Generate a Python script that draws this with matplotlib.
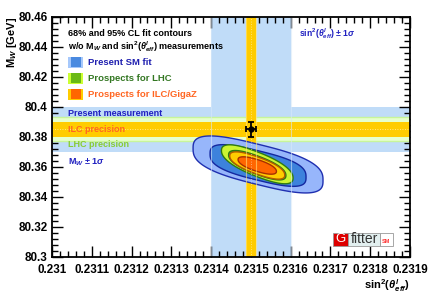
import numpy as np
import matplotlib.pyplot as plt
from matplotlib.patches import Rectangle
from matplotlib.ticker import MultipleLocator, FuncFormatter

plt.rcParams['font.family'] = ['Liberation Sans', 'DejaVu Sans']
plt.rcParams['mathtext.fontset'] = 'custom'
plt.rcParams['mathtext.rm'] = 'Liberation Sans:bold'
plt.rcParams['mathtext.bf'] = 'Liberation Sans:bold'
plt.rcParams['mathtext.it'] = 'Liberation Sans:bold:italic'

# measurement / prospect bands
sin2_center = 0.23150
sin2_err_present = 0.00010
sin2_err_ilc = 0.0000135
mw_center = 80.385
mw_err_present = 0.015
mw_err_lhc = 0.008
mw_err_ilc = 0.005

# fit contours: centre x, centre y, half width x, half width y, correlation, squareness
contour_names = ['SM 95%', 'SM 68%', 'LHC 95%', 'LHC 68%', 'ILC 95%', 'ILC 68%']
contour_cx = [0.231518, 0.231518, 0.231516, 0.231516, 0.231516, 0.231516]
contour_cy = [80.3617, 80.3610, 80.3618, 80.3612, 80.3610, 80.3610]
contour_ax = [0.0001633, 0.0001206, 0.0000900, 0.0000720, 0.0000691, 0.0000482]
contour_ay = [0.0190, 0.0139, 0.0130, 0.0098, 0.0091, 0.0058]
contour_rho = [-0.62, -0.62, -0.74, -0.74, -0.74, -0.70]
contour_sq = [0.7, 0.7, 0.85, 0.85, 0.85, 0.9]
contour_fill = ['#97b6fb', '#3d82dc', '#ccf533', '#4a9e1a', '#ffcc00', '#ff6600']
contour_edge = ['#1f2fb0', '#1428a0', '#2f7a12', '#2f7a12', '#b35a00', '#a83000']

fig = plt.figure(figsize=(4.32, 2.93), dpi=100)
ax = fig.add_axes([52/432, 36/293, 358/432, 240/293])
ax.set_xlim(0.231, 0.2319)
ax.set_ylim(80.3, 80.46)

light_blue = '#c0dcf8'
pale_green = '#e6ffcc'
orange = '#ffcc00'

# present measurement bands
ax.axvspan(sin2_center - sin2_err_present, sin2_center + sin2_err_present,
           color=light_blue, lw=0, zorder=1)
ax.axhspan(mw_center - mw_err_present, mw_center + mw_err_present,
           color=light_blue, lw=0, zorder=1)
# LHC
ax.axhspan(mw_center - mw_err_lhc, mw_center + mw_err_lhc,
           color=pale_green, lw=0, zorder=2)
for s in (-1, 1):
    ax.axhline(mw_center + s*mw_err_lhc, color='#c8f59a', lw=1.0, zorder=2)
# ILC
ax.axhspan(mw_center - mw_err_ilc, mw_center + mw_err_ilc,
           color=orange, lw=0, zorder=3)
ax.axvspan(sin2_center - sin2_err_ilc, sin2_center + sin2_err_ilc,
           color=orange, lw=0, zorder=3)
ax.axhline(mw_center, color='white', lw=0.6, ls=(0, (1, 2)), alpha=0.7, zorder=3)

# contours (rounded, sheared boxes)
t = np.linspace(0, 2*np.pi, 400)
for i in range(len(contour_names)):
    p = contour_sq[i]
    u = np.sign(np.cos(t))*np.abs(np.cos(t))**p
    v = np.sign(np.sin(t))*np.abs(np.sin(t))**p
    r = contour_rho[i]
    w = r*u + np.sqrt(1 - r*r)*v
    w = w/np.abs(w).max()
    x = contour_cx[i] + contour_ax[i]*u
    y = contour_cy[i] + contour_ay[i]*w
    ax.fill(x, y, facecolor=contour_fill[i], edgecolor=contour_edge[i], lw=1.0,
            zorder=4 + i*0.1)

# faint band edges over contours
for xv in (sin2_center - sin2_err_present, sin2_center + sin2_err_present):
    ax.axvline(xv, color='#d8e8f8', lw=0.8, alpha=0.6, zorder=5)
for xv in (sin2_center - sin2_err_ilc, sin2_center + sin2_err_ilc):
    ax.axvline(xv, color='#ffe680', lw=0.8, alpha=0.6, zorder=5)
ax.axvline(sin2_center, color='white', lw=0.6, ls=(0, (1, 2)), alpha=0.6, zorder=5)

ax.errorbar([sin2_center], [mw_center], xerr=[sin2_err_ilc], yerr=[mw_err_ilc],
            fmt='o', color='black', ms=3.5, capsize=2, elinewidth=1.3,
            capthick=1.3, zorder=6)

# axes style
ax.xaxis.set_major_locator(MultipleLocator(0.0001))
ax.xaxis.set_minor_locator(MultipleLocator(0.00002))
ax.yaxis.set_major_locator(MultipleLocator(0.02))
ax.yaxis.set_minor_locator(MultipleLocator(0.004))
fmt = FuncFormatter(lambda v, p: '%g' % round(v, 6))
ax.xaxis.set_major_formatter(fmt)
ax.yaxis.set_major_formatter(fmt)
ax.tick_params(which='both', direction='in', top=True, right=True, width=1)
ax.tick_params(which='major', length=8, labelsize=8.4)
ax.tick_params(axis='x', which='major', pad=5)
ax.tick_params(axis='y', which='major', pad=3)
ax.tick_params(which='minor', length=4)
for lab in ax.get_xticklabels() + ax.get_yticklabels():
    lab.set_fontweight('bold')
for sp in ax.spines.values():
    sp.set_linewidth(1.3)
    sp.set_zorder(10)

fig.text(12/432, 1 - 17/293, r'M$_{W}$ [GeV]', rotation=90, ha='center', va='top',
         fontsize=8, fontweight='bold')
fig.text(410/432, 1 - 286/293, r'sin$^{2}$($\theta^{l}_{eff}$)', ha='right',
         va='center', fontsize=8, fontweight='bold')

tx = 0.0439
ax.text(tx, 0.930, '68% and 95% CL fit contours', transform=ax.transAxes,
        fontsize=6.5, fontweight='bold', va='center', zorder=8)
ax.text(tx, 0.875, r'w/o M$_{W}$ and sin$^{2}$($\theta^{l}_{eff}$) measurements',
        transform=ax.transAxes, fontsize=6.5, fontweight='bold', va='center', zorder=8)

leg_labels = ['Present SM fit', 'Prospects for LHC', 'Prospects for ILC/GigaZ']
leg_outer = ['#a6c8fb', '#ccff33', '#ffcc00']
leg_inner = ['#4a8ae0', '#6ab915', '#ff6600']
leg_text = ['#2020b0', '#337722', '#ff6622']
leg_y = [0.811, 0.745, 0.679]
for i in range(3):
    ax.add_patch(Rectangle((tx, leg_y[i] - 0.023), 0.0436, 0.046,
                           transform=ax.transAxes, facecolor=leg_outer[i],
                           lw=0, zorder=8))
    ax.add_patch(Rectangle((0.053, leg_y[i] - 0.021), 0.029, 0.042,
                           transform=ax.transAxes, facecolor=leg_inner[i],
                           lw=0, zorder=8))
    ax.text(0.1006, leg_y[i], leg_labels[i], transform=ax.transAxes, fontsize=6.8,
            fontweight='bold', color=leg_text[i], va='center', zorder=8)

ax.text(tx, 0.597, 'Present measurement', transform=ax.transAxes, fontsize=6.5,
        fontweight='bold', color='#2020c0', va='center', zorder=8)
ax.text(tx, 0.532, 'ILC precision', transform=ax.transAxes, fontsize=6.5,
        fontweight='bold', color='#ff6622', va='center', zorder=8)
ax.text(tx, 0.470, 'LHC precision', transform=ax.transAxes, fontsize=6.5,
        fontweight='bold', color='#88cc33', va='center', zorder=8)
ax.text(tx, 0.393, r'M$_{W}$ $\pm$ 1$\sigma$', transform=ax.transAxes, fontsize=6.5,
        fontweight='bold', color='#2020c0', va='center', zorder=8)
ax.text(0.690, 0.929, r'sin$^{2}$($\theta^{l}_{eff}$) $\pm$ 1$\sigma$',
        transform=ax.transAxes, fontsize=6.2, fontweight='bold', color='#2020c0',
        va='center', zorder=8)

# Gfitter logo
ly, lh = 0.046, 0.056
ax.add_patch(Rectangle((0.785, ly), 0.042, lh, transform=ax.transAxes,
                       facecolor='#dd0000', edgecolor='#999999', lw=0.6, zorder=8))
ax.add_patch(Rectangle((0.827, ly), 0.0894, lh, transform=ax.transAxes,
                       facecolor='#e2efef', edgecolor='#999999', lw=0.6, zorder=8))
ax.add_patch(Rectangle((0.9164, ly), 0.0355, lh, transform=ax.transAxes,
                       facecolor='white', edgecolor='#999999', lw=0.6, zorder=8))
ax.text(0.806, ly + lh/2, 'G', transform=ax.transAxes, color='white', fontsize=9.5,
        ha='center', va='center', zorder=9)
ax.text(0.8717, ly + lh/2, 'fitter', transform=ax.transAxes, color='#333333',
        fontsize=10, ha='center', va='center', zorder=9)
ax.text(0.934, ly + lh/2 - 0.008, 'SM', transform=ax.transAxes, color='#ff3333',
        fontsize=4, fontweight='bold', ha='center', va='center', zorder=9)

fig.savefig('out.png', dpi=100)
